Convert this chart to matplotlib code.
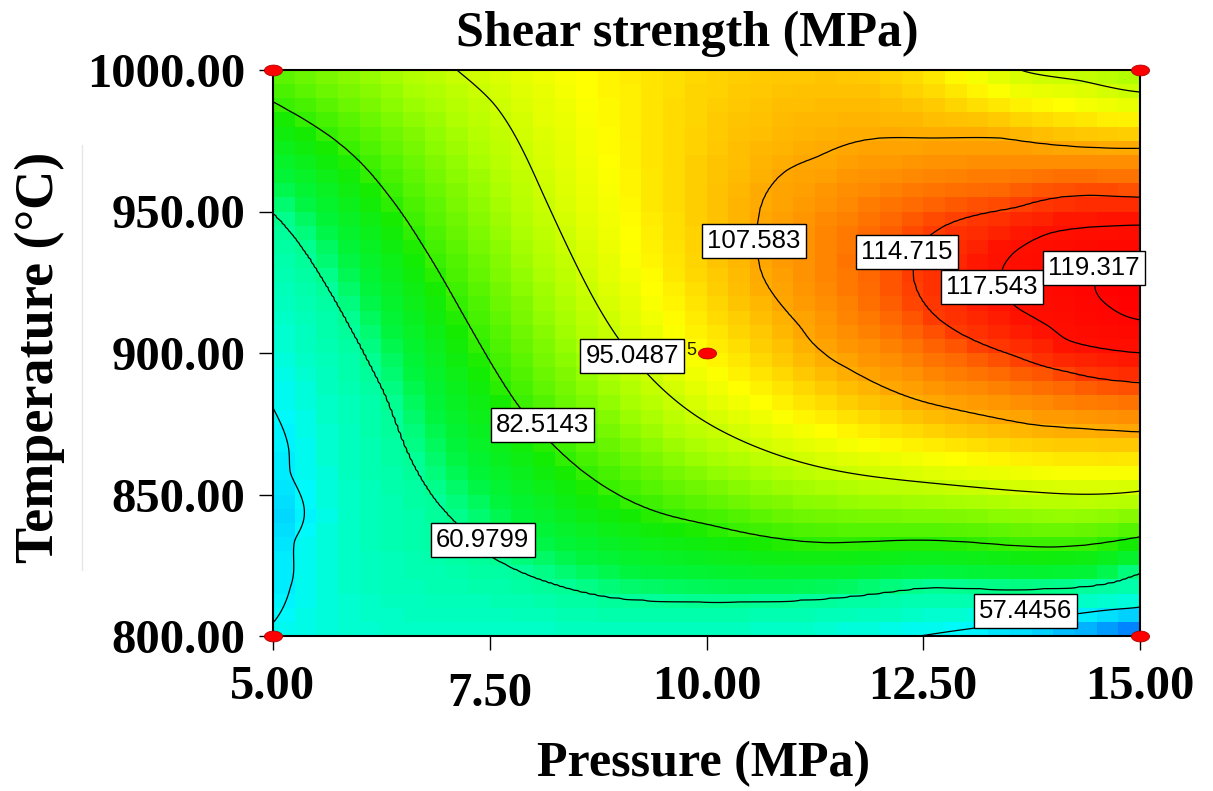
import numpy as np
import matplotlib
matplotlib.use("Agg")
import matplotlib.pyplot as plt
from matplotlib.colors import LinearSegmentedColormap, Normalize
from matplotlib.path import Path
from matplotlib.lines import Line2D

# ---------------- data ----------------
pressure_ticks = [5.00, 7.50, 10.00, 12.50, 15.00]
temperature_ticks = [800.00, 850.00, 900.00, 950.00, 1000.00]
contour_levels = [57.4456, 60.9799, 82.5143, 95.0487, 107.583, 114.715, 117.543, 119.317]

# points (pressure MPa, temperature degC)
c57_p = [5.00, 5.20, 5.25, 5.20, 5.00, 12.46, 13.19, 14.34, 15.00]
c57_t = [880.6, 857.6, 833.9, 817.3, 804.6, 800.0, 803.2, 808.1, 810.2]
c61_p = [5.00, 5.28, 5.74, 6.08, 6.31, 6.73, 7.12, 7.54, 8.11, 8.89, 10.04, 11.08, 12.61, 15.00]
c61_t = [949.5, 939.9, 917.7, 898.6, 884.5, 855.1, 839.9, 827.9, 819.8, 813.8, 812.0, 812.7, 817.3, 822.3]
c82_p = [5.00, 5.74, 6.31, 6.70, 7.16, 7.47, 7.85, 8.23, 8.51, 9.46, 10.04, 11.39, 13.12, 15.00]
c82_t = [988.7, 974.6, 956.5, 939.2, 915.2, 898.6, 880.5, 867.5, 859.7, 843.5, 839.2, 832.9, 832.9, 835.0]
c95_p = [7.12, 7.54, 8.11, 8.51, 8.97, 9.31, 9.92, 11.08, 13.77, 15.00, 13.62, 14.30, 15.00]
c95_t = [1000.0, 988.3, 956.5, 930.4, 905.7, 892.9, 877.0, 861.5, 850.9, 851.2, 1000.0, 996.3, 992.2]
c108_p = [15.00, 13.39, 12.61, 11.27, 10.93, 10.65, 10.58, 10.65, 11.08, 11.19, 11.46, 11.66, 12.43, 13.77, 15.00]
c108_t = [972.4, 976.0, 976.0, 969.3, 964.7, 954.1, 941.0, 926.9, 909.2, 904.6, 897.5, 894.0, 883.4, 874.6, 872.1]
c115_p = [15.00, 13.58, 12.81, 12.58, 12.38, 12.54, 13.00, 13.58, 14.16, 15.00]
c115_t = [955.1, 951.6, 945.9, 941.7, 928.3, 916.3, 905.7, 898.6, 893.3, 889.4]
c118_p = [15.00, 13.96, 13.58, 13.42, 13.54, 13.96, 14.16, 15.00]
c118_t = [945.2, 942.4, 936.4, 930.4, 917.0, 909.2, 904.6, 900.0]
c119_p = [15.00, 14.60, 14.48, 14.50, 14.65, 15.00]
c119_t = [934.0, 929.5, 923.3, 921.2, 916.3, 911.7]

# single values estimated from the colour field
spot_p = [15.0, 5.0, 15.0, 15.0, 5.0, 5.0, 5.0, 5.0, 10.0, 10.0, 12.0, 13.0, 7.5, 10.0]
spot_t = [923.0, 1000.0, 1000.0, 800.0, 800.0, 840.0, 820.0, 865.0, 900.0, 1000.0, 1000.0, 1000.0, 800.0, 800.0]
spot_z = [120.0, 86.0, 91.5, 50.0, 57.8, 55.8, 56.6, 56.8, 100.5, 103.5, 104.0, 99.0, 58.8, 59.0]

# design points (factorial corners + centre point)
design_p = [5.0, 5.0, 15.0, 15.0, 10.0]
design_t = [800.0, 1000.0, 800.0, 1000.0, 900.0]
center_replicates = 5

# ---------------- smooth surface through the read values ----------------
# values are mapped monotonically onto a "contour index" scale so that every band
# has a similar width, a thin-plate spline is fitted there, and mapped back.
z_nodes = [45.0] + contour_levels + [122.0]
u_nodes = [-2.5, 1, 2, 3, 4, 5, 6, 7, 8, 9.5]


def to_u(z):
    return np.interp(z, z_nodes, u_nodes)


def to_z(u):
    return np.interp(u, u_nodes, z_nodes)


groups = [(c57_p, c57_t, contour_levels[0]), (c61_p, c61_t, contour_levels[1]),
          (c82_p, c82_t, contour_levels[2]), (c95_p, c95_t, contour_levels[3]),
          (c108_p, c108_t, contour_levels[4]), (c115_p, c115_t, contour_levels[5]),
          (c118_p, c118_t, contour_levels[6]), (c119_p, c119_t, contour_levels[7])]
P_obs = np.concatenate([np.asarray(g[0], float) for g in groups] + [np.asarray(spot_p, float)])
T_obs = np.concatenate([np.asarray(g[1], float) for g in groups] + [np.asarray(spot_t, float)])
Z_obs = np.concatenate([np.full(len(g[0]), g[2]) for g in groups] + [np.asarray(spot_z, float)])
U_obs = to_u(Z_obs)


def coded(p, t):
    return (np.asarray(p, float) - 10.0) / 5.0, (np.asarray(t, float) - 900.0) / 100.0


def kernel(r):
    with np.errstate(divide='ignore', invalid='ignore'):
        k = r * r * np.log(r)
    return np.where(r > 0, k, 0.0)


A_obs, B_obs = coded(P_obs, T_obs)
n = len(U_obs)
R = np.hypot(A_obs[:, None] - A_obs[None, :], B_obs[:, None] - B_obs[None, :])
K = kernel(R) + 2e-4 * np.eye(n)
Pm = np.column_stack([np.ones(n), A_obs, B_obs])
M = np.block([[K, Pm], [Pm.T, np.zeros((3, 3))]])
sol = np.linalg.solve(M, np.concatenate([U_obs, np.zeros(3)]))
w, c = sol[:n], sol[n:]


def model_u(p, t):
    a, b = coded(p, t)
    shp = a.shape
    a, b = a.ravel(), b.ravel()
    out = np.empty(a.size)
    step = 20000
    for s in range(0, a.size, step):
        aa, bb = a[s:s + step], b[s:s + step]
        r = np.hypot(aa[:, None] - A_obs[None, :], bb[:, None] - B_obs[None, :])
        out[s:s + step] = kernel(r) @ w + c[0] + c[1] * aa + c[2] * bb
    return out.reshape(shp)


def model(p, t):
    return to_z(model_u(p, t))


# ---------------- figure ----------------
W, H = 1213, 791
fig = plt.figure(figsize=(W / 100, H / 100), dpi=100)
ax = fig.add_axes([273 / W, 1 - 636 / H, (1140 - 273) / W, (636 - 70) / H])

cmap_nodes = [46, 51, 55.5, 57.5, 59, 61, 68, 80, 92, 100, 108, 113, 117, 120]
cmap_cols = ['#0000ff', '#006eff', '#00c8ff', '#00f8ff', '#00ffc8', '#00ff96', '#00f53c',
             '#14eb00', '#aaff00', '#ffff00', '#ffa500', '#ff5a00', '#ff1400', '#ff0000']
vmin, vmax = cmap_nodes[0], cmap_nodes[-1]
cmap = LinearSegmentedColormap.from_list(
    "de", [((v - vmin) / (vmax - vmin), col) for v, col in zip(cmap_nodes, cmap_cols)])
norm = Normalize(vmin, vmax)

ncell = 40
pe = np.linspace(5, 15, ncell + 1)
te = np.linspace(800, 1000, ncell + 1)
pc = 0.5 * (pe[:-1] + pe[1:])
tc = 0.5 * (te[:-1] + te[1:])
PC, TC = np.meshgrid(pc, tc)
ax.pcolormesh(pe, te, model(PC, TC), cmap=cmap, norm=norm, shading='flat', zorder=1)

pf = np.linspace(5, 15, 300)
tf = np.linspace(800, 1000, 300)
PF, TF = np.meshgrid(pf, tf)
ax.contour(PF, TF, model(PF, TF), levels=contour_levels, colors='black', linewidths=0.9, zorder=2)

# contour labels
label_pos = [(13.68, 808.8), (7.42, 833.9), (8.11, 874.6), (9.14, 898.9),
             (10.55, 939.6), (12.31, 935.7), (13.29, 923.3), (14.47, 930.0)]
for lev, (lp, lt) in zip(contour_levels, label_pos):
    ax.text(lp, lt, f"{lev:g}", ha='center', va='center', fontsize=18.5,
            family='Liberation Sans', zorder=5, clip_on=False,
            bbox=dict(boxstyle='square,pad=0.2', fc='white', ec='black', lw=1.0))

# design points
th = np.linspace(0, 2 * np.pi, 60)
ell = Path(np.column_stack([np.cos(th), 0.6 * np.sin(th)]))
ax.plot(design_p, design_t, linestyle='none', marker=ell, markersize=13,
        markerfacecolor='#ff0000', markeredgecolor='#b00000', markeredgewidth=0.6,
        zorder=6, clip_on=False)
ax.annotate(str(center_replicates), (design_p[4], design_t[4]), xytext=(-11, 2),
            textcoords='offset points', ha='center', va='center', fontsize=13,
            family='Liberation Sans', color='#202000', zorder=6)

ax.set_xlim(5, 15)
ax.set_ylim(800, 1000)
ax.set_xticks(pressure_ticks)
ax.set_yticks(temperature_ticks)
ax.set_xticklabels([f"{v:.2f}" for v in pressure_ticks])
ax.set_yticklabels([f"{v:.2f}" for v in temperature_ticks])
for lab in ax.get_xticklabels() + ax.get_yticklabels():
    lab.set_fontfamily('Liberation Serif')
    lab.set_fontweight('bold')
    lab.set_fontsize(35)
ax.tick_params(axis='both', direction='out', length=10, width=1.0, color='black')
ax.tick_params(axis='x', pad=11)
ax.tick_params(axis='y', pad=10)
ax.xaxis.get_major_ticks()[1].set_pad(16)
for s in ax.spines.values():
    s.set_linewidth(1.5)
    s.set_zorder(4)

fig.text(687 / W, 1 - 46 / H, "Shear strength (MPa)", ha='center', va='baseline',
         fontsize=36, family='Liberation Serif', weight='bold')
fig.text(704 / W, 1 - 776 / H, "Pressure (MPa)", ha='center', va='baseline',
         fontsize=36, family='Liberation Serif', weight='bold')
fig.text(40 / W, 1 - 357 / H, "Temperature (\u00b0C)", ha='center', va='center',
         rotation=90, fontsize=39, family='Liberation Serif', weight='bold')
fig.add_artist(Line2D([82 / W, 82 / W], [1 - 145 / H, 1 - 570 / H], color='#e6e6e6', lw=1))

fig.savefig("out.png", dpi=100)
